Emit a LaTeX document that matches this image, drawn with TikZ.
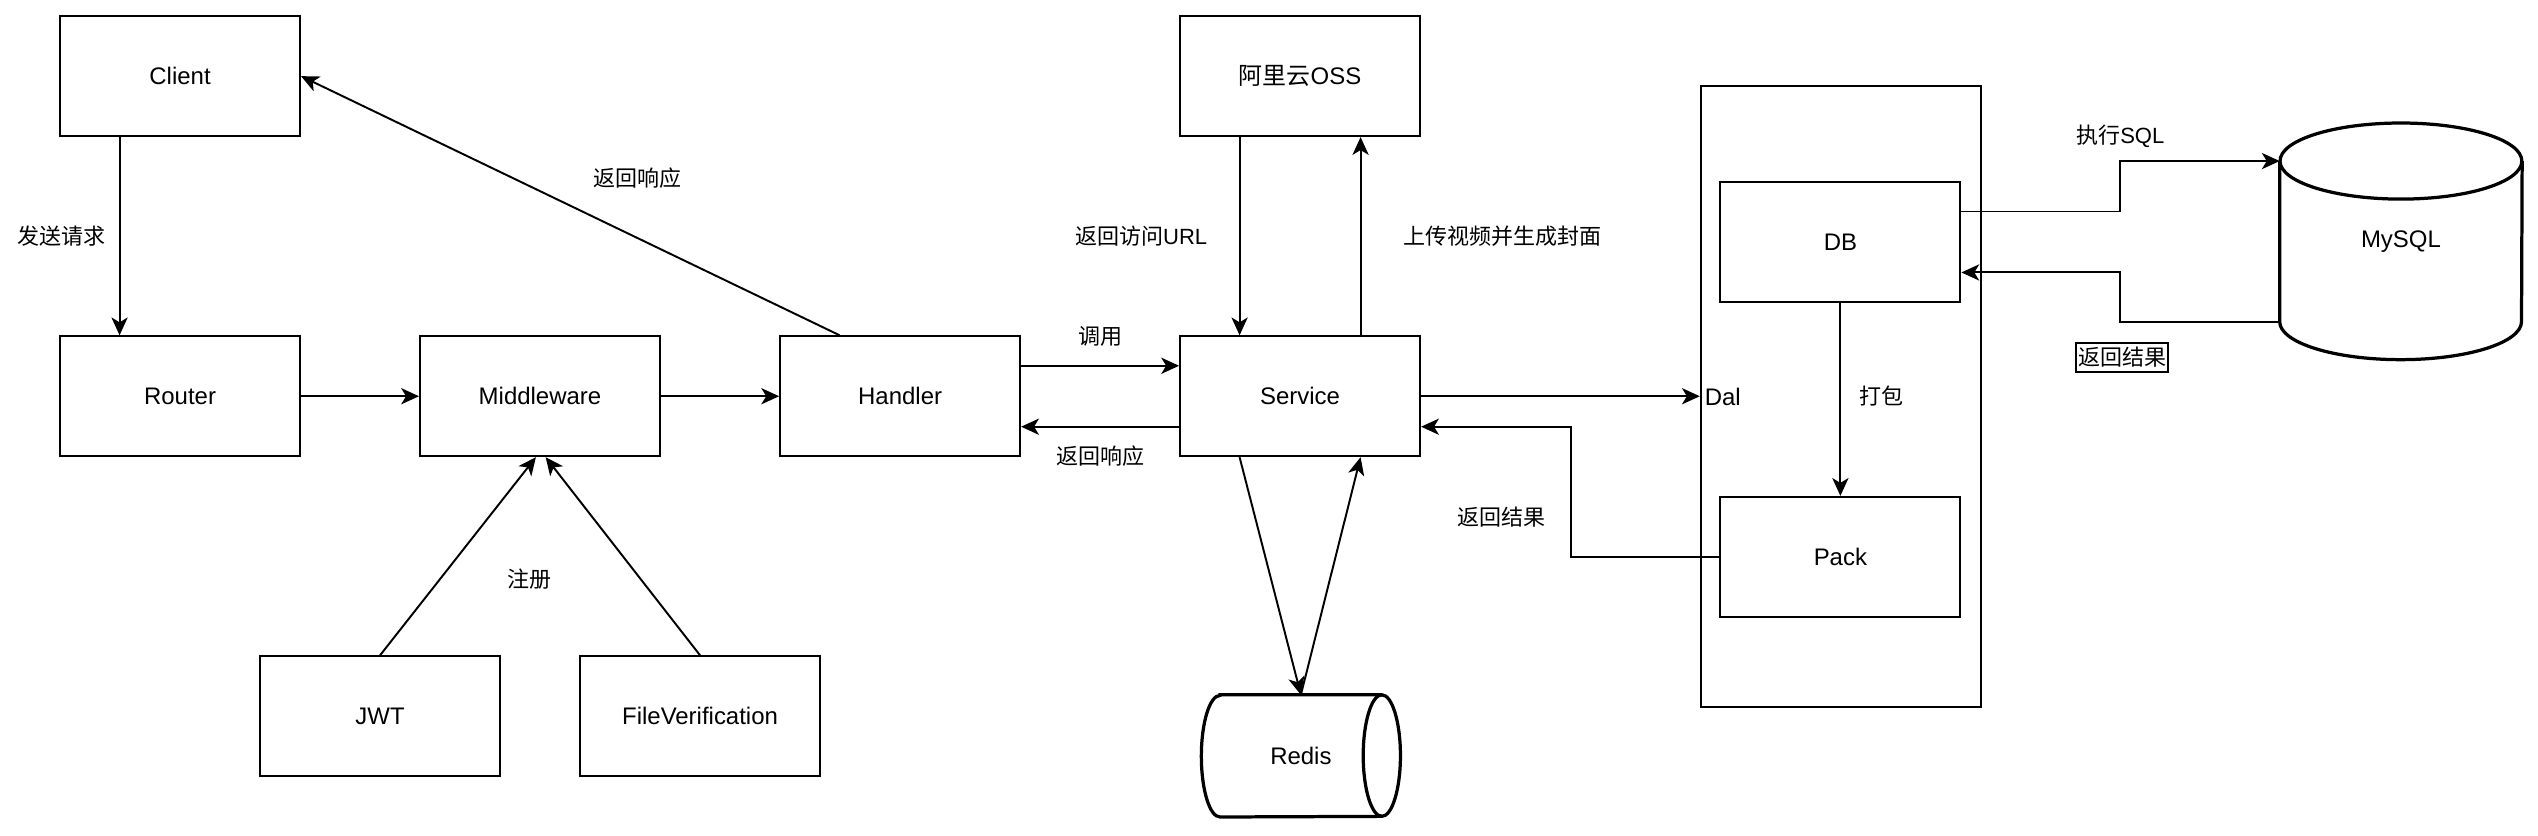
\documentclass[tikz,border=0pt]{standalone}
\usepackage{fontspec}
\setmainfont{Liberation Sans}
\newfontfamily\cjk{Noto Sans CJK SC}
\usetikzlibrary{arrows.meta,calc}
\begin{document}
\begin{tikzpicture}[x=1pt,y=-1pt,
  box/.style={draw=black, line width=1.2pt, minimum width=148.3pt, minimum height=74.1pt, inner sep=0pt, font=\fontsize{14.8}{17}\selectfont},
  lbl/.style={inner sep=0pt, font=\fontsize{13.6}{16}\selectfont},
  arr/.style={line width=1.2pt, -{Stealth[length=11pt,width=10pt,inset=3pt]}},
  cyl/.style={line width=2pt, draw=black},
  cylnode/.style={inner sep=0pt, font=\fontsize{14.8}{17}\selectfont}]
\useasboundingbox (0,0) rectangle (1568,516);
\fill[white] (0,0) rectangle (1568,516);

% boxes
\node[box] (client) at (111.25,47.05) {Client};
\node[box] (router) at (111.25,244.8) {Router};
\node[box] (middleware) at (333.6,244.8) {Middleware};
\node[box] (handler) at (556.1,244.8) {Handler};
\node[box] (service) at (803.2,244.8) {Service};
\node[box] (oss) at (803.2,47.05) {{\cjk 阿里云}OSS};
\node[box] (jwt) at (234.8,442.5) {JWT};
\node[box] (fv) at (432.5,442.5) {FileVerification};
\node[draw=black, line width=1.2pt, minimum width=172.9pt, minimum height=383.4pt, inner sep=0pt] (dal) at (1137.2,244.9) {};
\node[anchor=west, inner sep=0pt, font=\fontsize{14.8}{17}\selectfont] (dallbl) at (1053,245.1) {Dal};
\node[box] (db) at (1137,149.5) {DB};
\node[box] (pack) at (1137,344) {Pack};

% cylinders
\node[cylnode, minimum width=122.6pt, minimum height=75.1pt] (redis) at (803.7,467) {Redis};
\draw[cyl] ([xshift=11.5pt]redis.north west) -- ([xshift=-11.5pt]redis.north east)
  arc[start angle=90, end angle=-90, x radius=11.5pt, y radius=37.55pt]
  -- ([xshift=11.5pt]redis.south west)
  arc[start angle=270, end angle=90, x radius=11.5pt, y radius=37.55pt] -- cycle;
\draw[cyl] ([xshift=-11.5pt]redis.north east) arc[start angle=90, end angle=270, x radius=11.5pt, y radius=37.55pt];

\node[cylnode, minimum width=149.4pt, minimum height=145.8pt] (mysql) at (1483.3,149.1) {MySQL};
\draw[cyl] ([yshift=-23.5pt]mysql.north west) -- ([yshift=23.5pt]mysql.south west)
  arc[start angle=180, end angle=360, x radius=74.7pt, y radius=23.5pt]
  -- ([yshift=-23.5pt]mysql.north east);
\draw[cyl] ([yshift=-23.5pt]mysql.north) ellipse[x radius=74.7pt, y radius=23.5pt];

% connectors
\draw[arr] ($(client.south west)!.25!(client.south east)$) -- ($(router.north west)!.25!(router.north east)$);
\draw[arr] (router.east) -- (middleware.west);
\draw[arr] (middleware.east) -- (handler.west);
\draw[arr] ($(handler.north west)!.25!(handler.north east)$) -- (client.east);
\draw[arr] (jwt.north) -- ([xshift=-2.5pt]middleware.south);
\draw[arr] (fv.north) -- ([xshift=3.5pt]middleware.south);
\draw[arr] ($(handler.north east)!.25!(handler.south east)$) -- ($(service.north west)!.25!(service.south west)$);
\draw[arr] ($(service.north west)!.75!(service.south west)$) -- ($(handler.north east)!.75!(handler.south east)$);
\draw[arr] ($(oss.south west)!.25!(oss.south east)$) -- ($(service.north west)!.25!(service.north east)$);
\draw[arr] ($(service.north west)!.75!(service.north east)$) -- ($(oss.south west)!.75!(oss.south east)$);
\draw[arr] (service.east) -- (service.east -| dal.west);
\draw[arr] ($(service.south west)!.25!(service.south east)$) -- (redis.north);
\draw[arr] (redis.north) -- ($(service.south west)!.75!(service.south east)$);
\draw[arr] (db.south) -- (pack.north);

\coordinate (retx) at (970.4,0);
\coordinate (svcq) at ($(service.north east)!.75!(service.south east)$);
\draw[arr] (pack.west) -- (pack.west -| retx) -- (retx |- svcq) -- (svcq);

\coordinate (sqlx) at (1309.5,0);
\coordinate (dbq1) at ($(db.north east)!.25!(db.south east)$);
\coordinate (dbq3) at ($(db.north east)!.75!(db.south east)$);
\coordinate (myin) at ([yshift=-23.5pt]mysql.north west);
\coordinate (myout) at ([yshift=23.5pt]mysql.south west);
\draw[arr] (dbq1) -- (dbq1 -| sqlx) -- (sqlx |- myin) -- (myin);
\draw[arr] (myout) -- (myout -| sqlx) -- (sqlx |- dbq3) -- (dbq3);

% labels
\node[lbl] (l1) at (37.8,146) {\cjk 发送请求};
\node[lbl] (l2) at (394,110) {\cjk 返回响应};
\node[lbl] (l3) at (327,358) {\cjk 注册};
\node[lbl] (l4) at (680,208) {\cjk 调用};
\node[lbl] (l5) at (680,282) {\cjk 返回响应};
\node[lbl] (l6) at (705,146) {{\cjk 返回访问}URL};
\node[lbl] (l7) at (928,146) {\cjk 上传视频并生成封面};
\node[lbl] (l8) at (927.4,319.2) {\cjk 返回结果};
\node[lbl] (l9) at (1309.9,84.3) {{\cjk 执行}SQL};
\node[lbl, draw=black, line width=1pt, inner xsep=1.2pt, minimum height=17.9pt] (l10) at (1311,220.7) {\cjk 返回结果};
\node[lbl] (l11) at (1162.3,244.7) {\cjk 打包};
\end{tikzpicture}
\end{document}
